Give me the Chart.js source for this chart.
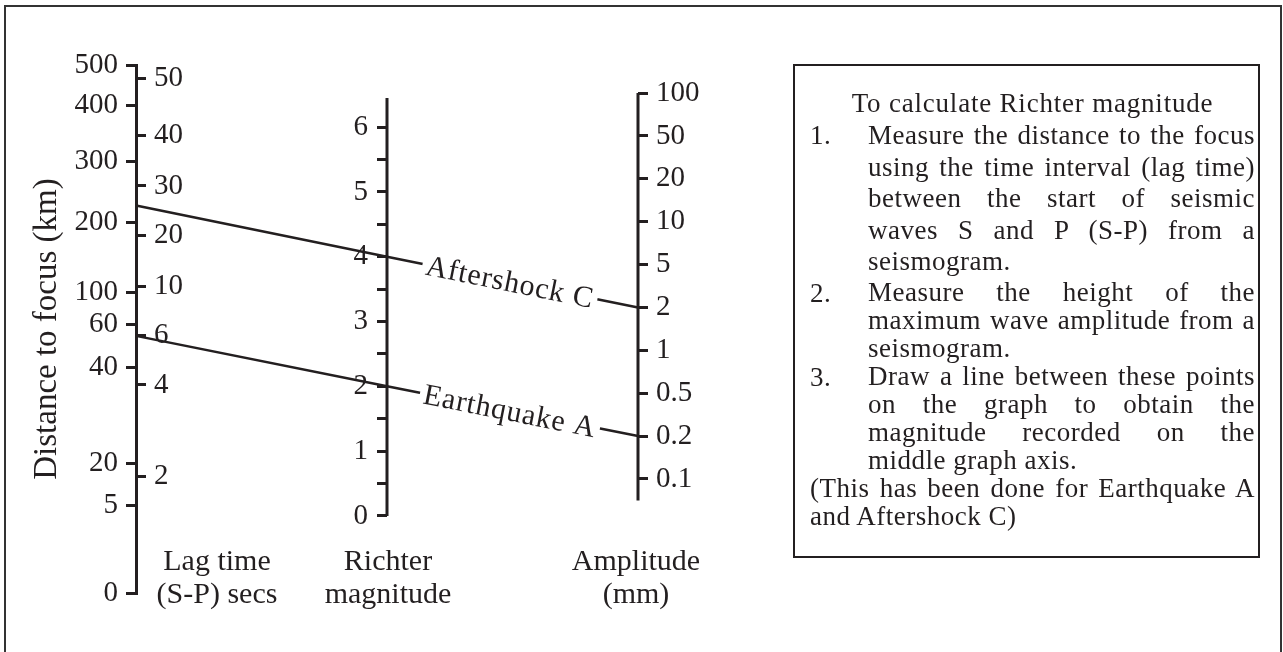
<!DOCTYPE html>
<html>
<head>
<meta charset="utf-8">
<script src="https://cdn.jsdelivr.net/npm/chart.js@4.4.0/dist/chart.umd.min.js"></script>
<style>
  body { margin:0; background:#fff; width:1283px; height:652px; overflow:hidden; position:relative;
         font-family:'Liberation Serif','Times New Roman',serif; color:#231f20; }
  #frame { position:absolute; left:4px; top:5px; width:1274px; height:700px; border:2px solid #333; }
  #wrap { position:absolute; left:0; top:0; width:1283px; height:652px; }
  .axname { position:absolute; width:200px; font-size:30px; line-height:33px; text-align:center; }
  #note { position:absolute; left:793px; top:64px; width:460px; height:490px; padding:0 3px 0 0;
          border:2px solid #231f20; font-size:27px; letter-spacing:0.5px; }
  #note .head { margin:21px 0 1px 15px; height:32px; line-height:32px; text-align:center; letter-spacing:0.8px; }
  #note .item { position:relative; margin-left:73px; }
  #note .num { position:absolute; left:-58px; top:0; }
  #note .item div, #note .last div { white-space:nowrap; overflow:visible; }
  #note .j { text-align:justify; text-align-last:justify; }
  #note .big div { height:31.5px; line-height:31.5px; }
  #note .sm div { height:28px; line-height:28px; }
  #note .last { margin-left:15px; }
</style>
</head>
<body>
<div id="frame"></div>
<div id="wrap"><canvas id="nomo"></canvas></div>

<div class="axname" style="left:117px;top:543px">Lag time<br>(S-P) secs</div>
<div class="axname" style="left:288px;top:543px">Richter<br>magnitude</div>
<div class="axname" style="left:536px;top:543px">Amplitude<br>(mm)</div>

<div id="note">
  <div class="head">To calculate Richter magnitude</div>
  <div class="item big"><span class="num">1.</span>
    <div class="j">Measure the distance to the focus</div>
    <div class="j">using the time interval (lag time)</div>
    <div class="j">between the start of seismic</div>
    <div class="j">waves S and P (S-P) from a</div>
    <div>seismogram.</div>
  </div>
  <div class="item sm"><span class="num">2.</span>
    <div class="j">Measure the height of the</div>
    <div class="j">maximum wave amplitude from a</div>
    <div>seismogram.</div>
  </div>
  <div class="item sm"><span class="num">3.</span>
    <div class="j">Draw a line between these points</div>
    <div class="j">on the graph to obtain the</div>
    <div class="j">magnitude recorded on the</div>
    <div>middle graph axis.</div>
  </div>
  <div class="last sm">
    <div class="j">(This has been done for Earthquake A</div>
    <div>and Aftershock C)</div>
  </div>
</div>

<script>
var ink = '#231f20';

// tick values of each scale of the nomogram
var distTicks = [0, 5, 20, 40, 60, 100, 200, 300, 400, 500];
var lagTicks = [2, 4, 6, 10, 20, 30, 40, 50];
var richterTicks = [0, 0.5, 1, 1.5, 2, 2.5, 3, 3.5, 4, 4.5, 5, 5.5, 6];
var ampTicks = [0.1, 0.2, 0.5, 1, 2, 5, 10, 20, 50, 100];

// the two worked examples
var events = ['Earthquake A', 'Aftershock C'];
var eventLag = [6, 26];
var eventMagnitude = [2, 4];
var eventAmplitude = [0.2, 2];

// where the (hand drawn) ticks sit on a common 0-100 ruler
var distStops = [0, 16.5, 24.6, 42.8, 50.9, 57.0, 70.1, 81.8, 92.4, 100];
var lagStops = [22.0, 39.4, 48.7, 58.1, 67.8, 77.1, 86.6, 97.5];
function richterStop(m) { return 14.6 + 12.27 * m; }
function ampStop(i) { return 21.6 + 8.12 * i; }
var richterStops = richterTicks.map(richterStop);
var ampStops = ampTicks.map(function (t, i) { return ampStop(i); });

function place(ticks, stops, v) {
	for (var i = 1; i < ticks.length; i++) {
		if (v <= ticks[i] || i === ticks.length - 1) {
			var f = (v - ticks[i - 1]) / (ticks[i] - ticks[i - 1]);
			return stops[i - 1] + f * (stops[i] - stops[i - 1]);
		}
	}
}

function vAxis(stops, labels, opts) {
	var axis = {
		type: 'linear', axis: 'y', min: 0, max: 100,
		afterBuildTicks: function (s) { s.ticks = stops.map(function (v) { return { value: v }; }); },
		afterFit: function (s) { s.width = opts.width || 0; },
		grid: { drawOnChartArea: false, drawTicks: opts.tickLength !== 0, tickLength: opts.tickLength || 10, color: ink, lineWidth: 3 },
		border: { display: false },
		ticks: {
			autoSkip: false, color: ink, padding: opts.padding, mirror: !!opts.mirror,
			display: labels !== null,
			font: { family: 'Liberation Serif', size: 29 },
			callback: function (v, i) { return labels ? labels(i) : ''; }
		}
	};
	for (var k in opts.extra || {}) axis[k] = opts.extra[k];
	return axis;
}

var datasets = events.map(function (name, i) {
	return {
		label: name,
		data: [
			{ x: 0, y: place(lagTicks, lagStops, eventLag[i]) },
			{ x: 1, y: richterStop(eventMagnitude[i]) },
			{ x: 2, y: place(ampTicks, ampStops, eventAmplitude[i]) }
		],
		borderColor: ink, borderWidth: 2.5, showLine: true, pointRadius: 0, yAxisID: 'ruler', clip: false
	};
});
// spines of the middle and right scales
datasets.push({ data: [{ x: 1, y: richterStop(0) }, { x: 1, y: richterStop(6.45) }],
	borderColor: ink, borderWidth: 3, showLine: true, pointRadius: 0, yAxisID: 'ruler', clip: false });
datasets.push({ data: [{ x: 2, y: ampStop(-0.5) }, { x: 2, y: ampStop(9) }],
	borderColor: ink, borderWidth: 3, showLine: true, pointRadius: 0, yAxisID: 'ruler', clip: false });

var eventLabels = {
	id: 'eventLabels',
	afterDatasetsDraw: function (chart) {
		var ctx = chart.ctx;
		events.forEach(function (name, i) {
			var pts = chart.getDatasetMeta(i).data;
			var a = pts[1], b = pts[2], t = 0.49;
			var x = a.x + (b.x - a.x) * t, y = a.y + (b.y - a.y) * t;
			ctx.save();
			ctx.translate(x, y);
			ctx.rotate(Math.atan2(b.y - a.y, b.x - a.x));
			ctx.font = '30px "Liberation Serif"';
			ctx.letterSpacing = '0.8px';
			var w = ctx.measureText(name).width;
			ctx.fillStyle = '#fff';
			ctx.fillRect(-w / 2 - 4, -11, w + 8, 22);
			ctx.fillStyle = ink;
			ctx.textAlign = 'center';
			ctx.textBaseline = 'middle';
			ctx.fillText(name, 0, 2);
			ctx.restore();
		});
	}
};

new Chart(document.getElementById('nomo'), {
	type: 'scatter',
	data: { datasets: datasets },
	plugins: [eventLabels],
	options: {
		responsive: true, maintainAspectRatio: false, animation: false,
		layout: { padding: { left: 136 - 108, right: 1283 - 638 - 80, top: 65, bottom: 59 } },
		plugins: { legend: { display: false }, tooltip: { enabled: false } },
		scales: {
			x: { type: 'linear', min: 0, max: 2, display: false },
			ruler: { type: 'linear', axis: 'y', min: 0, max: 100, display: false, position: 'left' },
			dist: vAxis(distStops, function (i) { return String(distTicks[i]); }, {
				width: 108, padding: 8,
				extra: {
					position: 'left', weight: 1,
					border: { display: true, color: ink, width: 3 },
					title: { display: true, text: 'Distance to focus (km)', color: ink, padding: 0,
						font: { family: 'Liberation Serif', size: 33 } }
				}
			}),
			lag: vAxis(lagStops, function (i) { return String(lagTicks[i]); }, {
				width: 0, padding: 18, mirror: true, tickLength: -10,
				extra: { position: 'left', weight: 0 }
			}),
			// tick marks on the middle spine, and its labels set a little to the left
			richter: vAxis(richterStops, null, { width: 0, padding: 0, extra: { position: { x: 1 } } }),
			richterLabels: vAxis(richterStops, function (i) {
				return richterTicks[i] % 1 === 0 ? String(richterTicks[i]) : '';
			}, { width: 0, padding: 0, tickLength: 0, extra: { position: { x: 0.924 } } }),
			amp: vAxis(ampStops, function (i) { return String(ampTicks[i]); }, {
				width: 80, padding: 8, extra: { position: 'right' }
			})
		}
	}
});

// spread the justified lines partly with letter spacing, as in the original print
document.querySelectorAll('#note .j').forEach(function (el) {
	var span = document.createElement('span');
	span.textContent = el.textContent;
	el.textContent = '';
	el.appendChild(span);
	var extra = el.clientWidth - span.getBoundingClientRect().width;
	if (extra > 0) el.style.letterSpacing = (0.5 + 0.55 * extra / span.textContent.length) + 'px';
});
</script>
</body>
</html>
